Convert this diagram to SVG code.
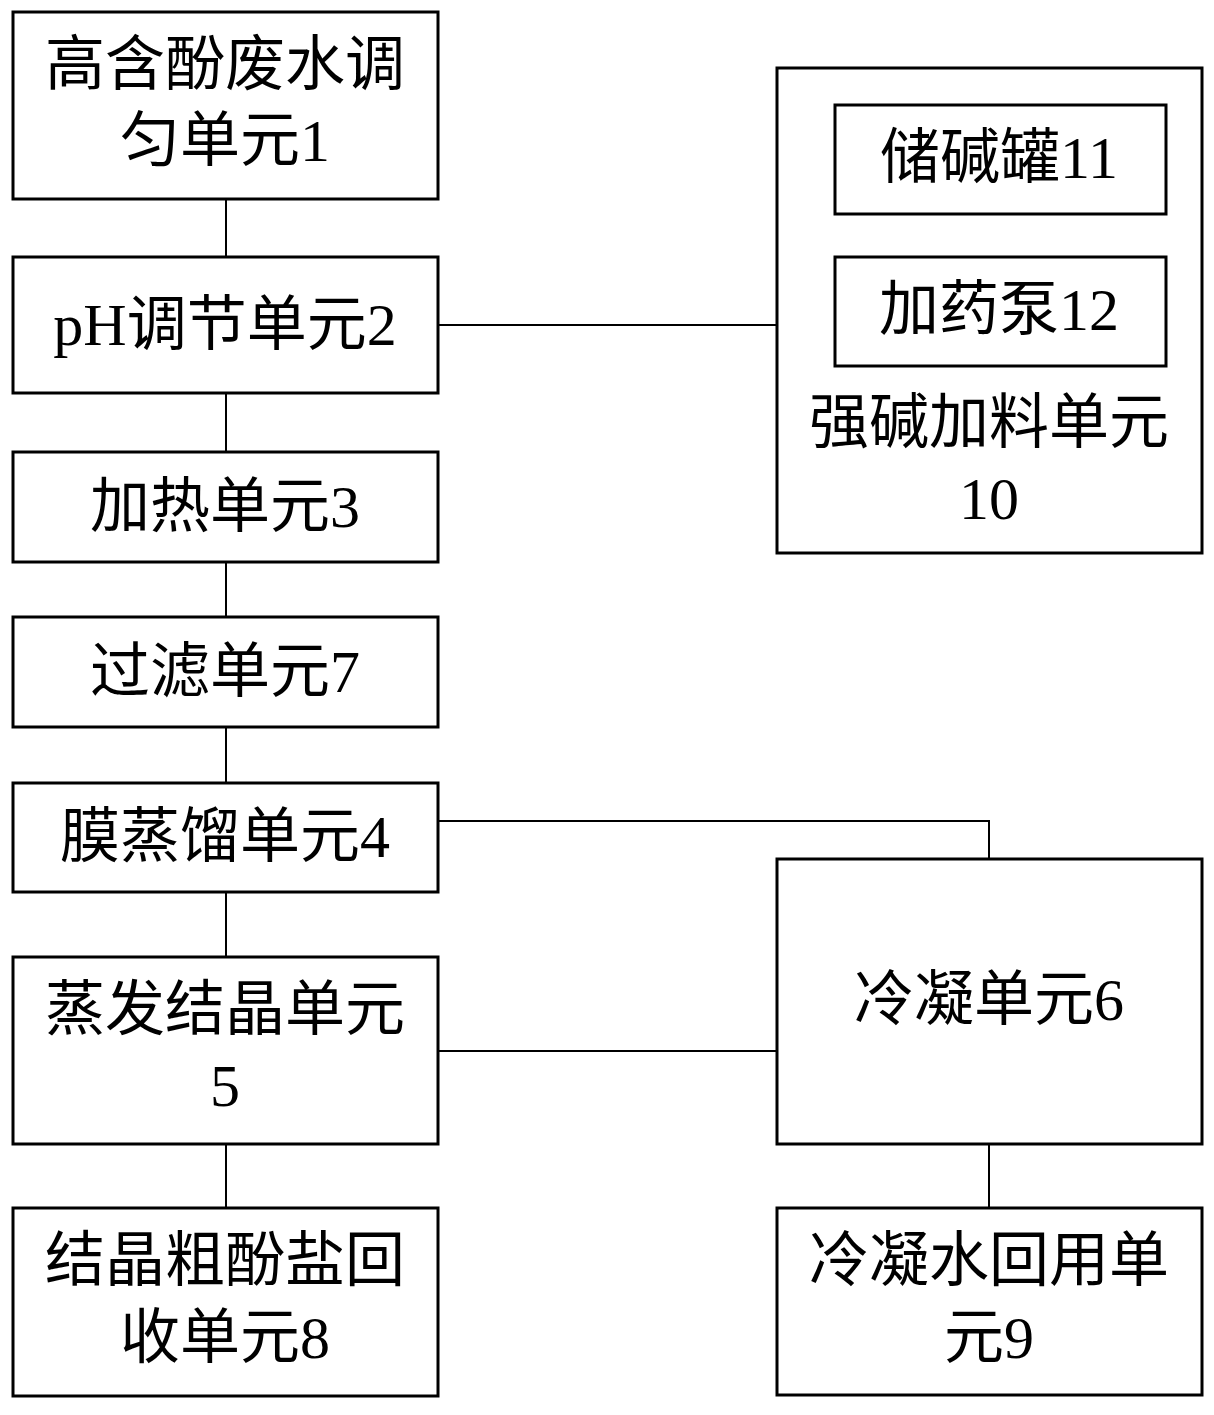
<svg xmlns="http://www.w3.org/2000/svg" width="1214" height="1415" viewBox="0 0 1214 1415">
<style>
.box{fill:#fff;stroke:#000;stroke-width:3}
.con{fill:none;stroke:#000;stroke-width:2}
text{font-family:"Liberation Serif","Noto Sans CJK SC",serif;font-size:60px;fill:#000;text-anchor:middle}
</style>
<rect width="1214" height="1415" fill="#fff"/>
<g id="connectors">
<line class="con" x1="226" y1="199" x2="226" y2="257"/>
<line class="con" x1="226" y1="393" x2="226" y2="452"/>
<line class="con" x1="226" y1="562" x2="226" y2="617"/>
<line class="con" x1="226" y1="727" x2="226" y2="783"/>
<line class="con" x1="226" y1="892" x2="226" y2="957"/>
<line class="con" x1="226" y1="1144" x2="226" y2="1208"/>
<line class="con" x1="438" y1="325" x2="777" y2="325"/>
<line class="con" x1="1001" y1="214" x2="1001" y2="257"/>
<polyline class="con" points="438,821 989,821 989,859"/>
<line class="con" x1="438" y1="1051" x2="777" y2="1051"/>
<line class="con" x1="989" y1="1144" x2="989" y2="1208"/>
</g>
<g id="n1"><rect class="box" x="13" y="12" width="425" height="187"/><text x="225" y="85">高含酚废水调</text><text x="225" y="161">匀单元1</text></g>
<g id="n2"><rect class="box" x="13" y="257" width="425" height="136"/><text x="225" y="345">pH调节单元2</text></g>
<g id="n3"><rect class="box" x="13" y="452" width="425" height="110"/><text x="225" y="527">加热单元3</text></g>
<g id="n7"><rect class="box" x="13" y="617" width="425" height="110"/><text x="225" y="692">过滤单元7</text></g>
<g id="n4"><rect class="box" x="13" y="783" width="425" height="109"/><text x="225" y="857">膜蒸馏单元4</text></g>
<g id="n5"><rect class="box" x="13" y="957" width="425" height="187"/><text x="225" y="1030">蒸发结晶单元</text><text x="225" y="1106">5</text></g>
<g id="n8"><rect class="box" x="13" y="1208" width="425" height="188"/><text x="225" y="1281">结晶粗酚盐回</text><text x="225" y="1358">收单元8</text></g>
<g id="n10"><rect class="box" x="777" y="68" width="425" height="485"/><text x="989" y="443">强碱加料单元</text><text x="989" y="519">10</text></g>
<g id="n11"><rect class="box" x="835" y="105" width="331" height="109"/><text x="999" y="178">储碱罐11</text></g>
<g id="n12"><rect class="box" x="835" y="257" width="331" height="109"/><text x="999" y="330">加药泵12</text></g>
<g id="n6"><rect class="box" x="777" y="859" width="425" height="285"/><text x="989" y="1020">冷凝单元6</text></g>
<g id="n9"><rect class="box" x="777" y="1208" width="425" height="187"/><text x="989" y="1281">冷凝水回用单</text><text x="989" y="1358">元9</text></g>
</svg>
